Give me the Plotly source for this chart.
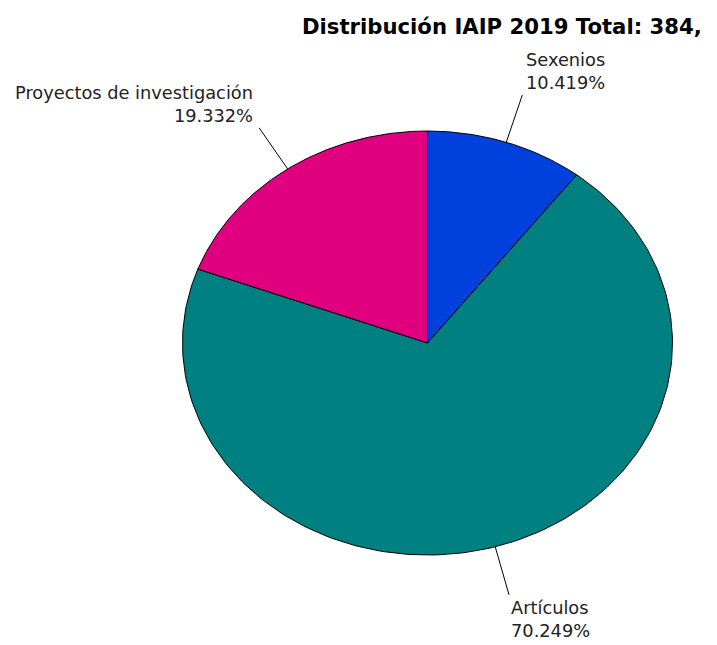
import numpy as np
import plotly.graph_objects as go

# data
labels = ["Sexenios", "Artículos", "Proyectos de investigación"]
percents = [10.419, 70.249, 19.332]
colors = ["#0040DD", "#008080", "#E0007F"]
title = "Distribución IAIP 2019 Total: 384,"

W, H = 717, 645
OFF = 8               # page body margin, so axes units equal window pixels
cx, cy = 427.5, 343   # pie centre (pixel units of the axes)
rx, ry = 245, 212     # elliptical pie radii
lead = 50             # leader line length

FONT = "DejaVu Sans"

fig = go.Figure()

start = 0.0
for lab, pct, col in zip(labels, percents, colors):
    a0 = start / 100 * 2 * np.pi
    a1 = (start + pct) / 100 * 2 * np.pi
    start += pct
    t = np.linspace(a0, a1, 200)
    xs = np.concatenate([[cx], cx + rx * np.sin(t), [cx]])
    ys = np.concatenate([[cy], cy - ry * np.cos(t), [cy]])
    fig.add_trace(go.Scatter(
        x=xs, y=ys, mode="lines", fill="toself",
        fillcolor=col, line=dict(color="black", width=1),
        hoverinfo="skip", showlegend=False
    ))

    # leader line + label
    am = (a0 + a1) / 2
    sx, sy = cx + rx * np.sin(am), cy - ry * np.cos(am)
    ex, ey = sx + lead * np.sin(am), sy - lead * np.cos(am)
    fig.add_trace(go.Scatter(
        x=[sx, ex], y=[sy, ey], mode="lines",
        line=dict(color="black", width=1),
        hoverinfo="skip", showlegend=False
    ))
    right = np.sin(am) >= 0
    top = np.cos(am) >= 0
    gap = 0 if not top else (2 if right else -4)
    fig.add_annotation(
        x=ex + gap, y=ey,
        xref="x", yref="y",
        text=f"{lab}<br>{pct:.3f}%",
        showarrow=False,
        xanchor="left" if right else "right",
        yanchor="bottom" if top else "top",
        align="left" if right else "right",
        font=dict(family=FONT, size=17.8, color="#222222"),
    )

fig.add_annotation(
    x=300, y=12, xref="x", yref="y",
    text=f"<b>{title}</b>", showarrow=False,
    xanchor="left", yanchor="top",
    font=dict(family=FONT, size=21.2, color="black"),
)

fig.update_layout(
    width=W, height=H,
    margin=dict(l=0, r=0, t=0, b=0),
    paper_bgcolor="white", plot_bgcolor="white",
    xaxis=dict(range=[OFF, W + OFF], visible=False, fixedrange=True),
    yaxis=dict(range=[H + OFF, OFF], visible=False, fixedrange=True),
)

fig.write_html("out.html")
